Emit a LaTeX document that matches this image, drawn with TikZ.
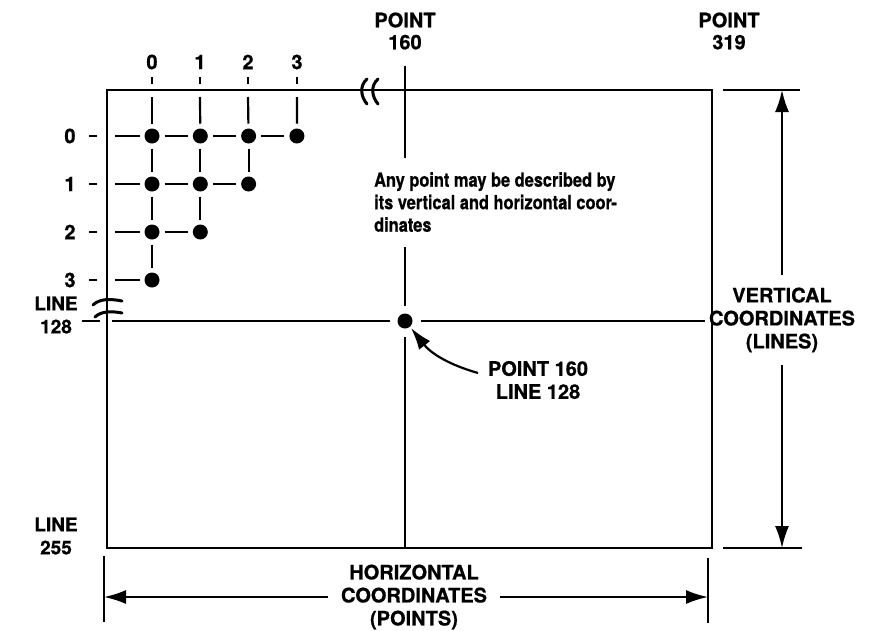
\documentclass[tikz,border=0pt]{standalone}
\usepackage{fontspec}
\setmainfont{TeX Gyre Heros}[BoldFeatures={FakeBold=0.8}]
\newfontfamily\condfont{TeX Gyre Heros}[FakeStretch=0.84, BoldFeatures={FakeBold=0.8}]
\usetikzlibrary{arrows.meta}
\begin{document}
\begin{tikzpicture}[x=1pt,y=-1pt,
  lbl/.style={font=\bfseries\fontsize{20}{22}\selectfont, align=center, inner sep=0pt},
  dimlbl/.style={font=\bfseries\fontsize{20}{23}\selectfont, align=center},
  linelbl/.style={font=\bfseries\fontsize{19}{23}\selectfont, align=center, inner sep=0pt},
  bodytxt/.style={font=\condfont\bfseries\fontsize{19.5}{22.5}\selectfont, align=left, inner sep=0pt},
  dot/.style={circle, fill=black, inner sep=0pt, minimum size=15pt, outer sep=5pt},
  bigdot/.style={circle, fill=black, inner sep=0pt, minimum size=15pt, outer sep=8pt},
  gridline/.style={line width=2.2pt},
  mainline/.style={line width=2pt},
  border/.style={line width=2.6pt},
  dimline/.style={line width=2pt},
  dimarrow/.style={line width=2pt, -{Latex[length=22pt,width=14pt]}},
  breakmark/.style={line width=3pt, line cap=round}
]
\useasboundingbox (0,0) rectangle (884,630);

% frame
\draw[border] (107,90) rectangle (712,548);

% break marks on top border
\foreach \x in {364,375}{
  \draw[breakmark] (\x+3,79) .. controls (\x-5,86) and (\x-3,97) .. (\x+3,104);
}
% break marks on left border
\draw[breakmark] (93,305) .. controls (100,298) and (112,299) .. (122,301);
\draw[breakmark] (95,317) .. controls (101,311) and (112,311) .. (122,313);

% column labels and ticks
\foreach \c/\x in {0/152,1/200,2/248,3/297}{
  \node[lbl] (cl\c) at (\x,62) {\c};
  \coordinate (cta\c) at (\x,77);
  \coordinate (ctb\c) at (\x,84);
  \coordinate (cs\c) at (\x,97);
  \draw[gridline] (cta\c) -- (ctb\c);
}
% row labels and ticks
\foreach \r/\y in {0/136,1/184,2/232,3/280}{
  \node[lbl] (rl\r) at (70,\y) {\r};
  \coordinate (rta\r) at (89,\y);
  \coordinate (rtb\r) at (97,\y);
  \coordinate (rs\r) at (115,\y);
  \draw[gridline] (rta\r) -- (rtb\r);
}

% grid dots
\foreach \c/\r in {0/0,1/0,2/0,3/0,0/1,1/1,2/1,0/2,1/2,0/3}{
  \node[dot] (d\c\r) at ({152+48.3*\c},{136+48*\r}) {};
}
% row connectors
\foreach \r in {0,1,2,3}{ \draw[gridline] (rs\r) -- (d0\r); }
\foreach \a/\b/\r in {0/1/0,1/2/0,2/3/0,0/1/1,1/2/1,0/1/2}{
  \draw[gridline] (d\a\r) -- (d\b\r);
}
% column connectors
\foreach \c in {0,1,2,3}{ \draw[gridline] (cs\c) -- (d\c0); }
\foreach \c/\a/\b in {0/0/1,0/1/2,0/2/3,1/0/1,1/1/2,2/0/1}{
  \draw[gridline] (d\c\a) -- (d\c\b);
}

% top labels
\node[lbl] (p160) at (405,31) {POINT\\160};
\node[lbl] (p319) at (729,31) {POINT\\319};

% left labels
\node[linelbl] (l128) at (56,315) {LINE\\128};
\node[linelbl] (l255) at (56,536) {LINE\\255};

% explanatory text
\node[bodytxt, anchor=north west] (txt) at (374,172)
  {Any point may be described by\\its vertical and horizontal coor-\\dinates};

% point 160 / line 128
\node[bigdot] (P) at (405,321) {};
\coordinate (v0) at (405,66);
\coordinate (v1) at (405,158);
\coordinate (v2) at (405,247);
\coordinate (vb) at (405,548);
\draw[mainline] (v0) -- (v1);
\draw[mainline] (v2) -- (P);
\draw[mainline] (P) -- (vb);
\coordinate (hl0) at (82,321);
\coordinate (hl1) at (100,321);
\coordinate (hl2) at (112,321);
\coordinate (hr) at (705,321);
\draw[mainline] (hl0) -- (hl1);
\draw[mainline] (hl2) -- (P);
\draw[mainline] (P) -- (hr);

\node[lbl, font=\bfseries\fontsize{20}{23}\selectfont] (PL) at (538,380) {POINT 160\\LINE 128};
\coordinate (tail) at (478,373);
\coordinate (Ptip) at (411,328);
\draw[dimarrow, line width=2.2pt] (tail) to[bend left=18] (Ptip);

% vertical dimension
\coordinate (ve1a) at (723,90);
\coordinate (ve1b) at (800,90);
\coordinate (ve2a) at (723,548);
\coordinate (ve2b) at (802,548);
\draw[dimline] (ve1a) -- (ve1b);
\draw[dimline] (ve2a) -- (ve2b);
\node[dimlbl, inner xsep=0pt, inner ysep=12pt] (VC) at (782,320) {VERTICAL\\COORDINATES\\(LINES)};
\coordinate (vtop) at (782,90);
\coordinate (vbot) at (782,548);
\draw[dimarrow] (VC.north) -- (vtop);
\draw[dimarrow] (VC.south) -- (vbot);

% horizontal dimension
\coordinate (ht1a) at (104,556);
\coordinate (ht1b) at (104,622);
\coordinate (ht2a) at (708,558);
\coordinate (ht2b) at (708,623);
\draw[dimline] (ht1a) -- (ht1b);
\draw[dimline] (ht2a) -- (ht2b);
\node[dimlbl, inner xsep=13pt, inner ysep=0pt] (HC) at (414,597) {HORIZONTAL\\COORDINATES\\(POINTS)};
\coordinate (hleft) at (104,597);
\coordinate (hright) at (708,597);
\draw[dimarrow] (HC.west) -- (hleft);
\draw[dimarrow] (HC.east) -- (hright);
\end{tikzpicture}
\end{document}
